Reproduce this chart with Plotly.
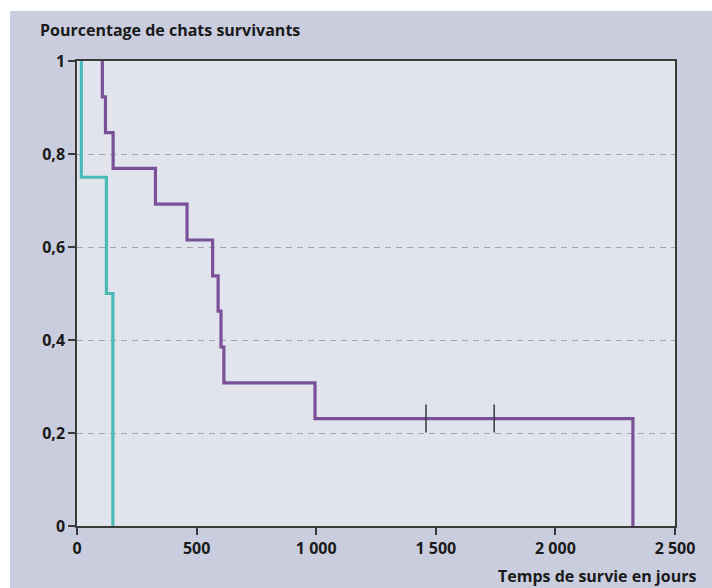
import plotly.graph_objects as go

# Kaplan-Meier data
teal_days = [18, 18, 123, 123, 150, 150]
teal_surv = [1.0, 0.75, 0.75, 0.5, 0.5, 0.0]

purple_days = [106, 106, 119, 119, 151, 151, 328, 328, 460, 460, 567, 567,
               590, 590, 602, 602, 614, 614, 995, 995, 2324, 2324]
purple_surv = [1.0, 0.923, 0.923, 0.846, 0.846, 0.769, 0.769, 0.692, 0.692, 0.615,
               0.615, 0.538, 0.538, 0.462, 0.462, 0.385, 0.385, 0.308, 0.308, 0.231,
               0.231, 0.0]

censor_days = [1459, 1744]
censor_surv = [0.231, 0.231]

x_ticks = [0, 500, 1000, 1500, 2000, 2500]
x_ticktext = ["0", "500", "1 000", "1 500", "2 000", "2 500"]
y_ticks = [0, 0.2, 0.4, 0.6, 0.8, 1]
y_ticktext = ["0", "0,2", "0,4", "0,6", "0,8", "1"]

y_title = "Pourcentage de chats survivants"
x_title = "Temps de survie en jours"

TEAL = "#4bbab6"
PURPLE = "#7a5198"
PANEL = "#c9cddd"
PLOTBG = "#e1e4ec"
AXIS = "#3a3a3a"
FONT = dict(family="'Open Sans', sans-serif", size=16, color="#1a1a1a", weight=700)

fig = go.Figure()
fig.add_trace(go.Scatter(x=teal_days, y=teal_surv, mode="lines",
                         line=dict(color=TEAL, width=3.2), showlegend=False))
fig.add_trace(go.Scatter(x=purple_days, y=purple_surv, mode="lines",
                         line=dict(color=PURPLE, width=3.2), showlegend=False))
fig.add_trace(go.Scatter(x=censor_days, y=censor_surv, mode="markers",
                         marker=dict(symbol="line-ns", size=20,
                                     line=dict(color="#3a3a3a", width=1.5)),
                         showlegend=False))

L, R, T, B = 77, 37, 61, 62
W, H = 712, 588
pw, ph = W - L - R, H - T - B

def px2x(px):
    return (px - L) / pw

def py2y(py):
    return (H - B - py) / ph

# white strips outside the grey panel (left and top)
fig.add_shape(type="rect", xref="paper", yref="paper",
              x0=px2x(-5), x1=px2x(10), y0=py2y(600), y1=py2y(-5),
              fillcolor="white", line=dict(width=0), layer="below")
fig.add_shape(type="rect", xref="paper", yref="paper",
              x0=px2x(-5), x1=px2x(720), y0=py2y(11), y1=py2y(-5),
              fillcolor="white", line=dict(width=0), layer="below")

fig.add_annotation(text=y_title, xref="paper", yref="paper",
                   x=px2x(38), y=py2y(30), xanchor="left", yanchor="middle",
                   showarrow=False, font=FONT)
fig.add_annotation(text=x_title, xref="paper", yref="paper",
                   x=px2x(698), y=py2y(576), xanchor="right", yanchor="middle",
                   showarrow=False, font=FONT)

fig.update_xaxes(range=[0, 2500], tickvals=x_ticks, ticktext=x_ticktext,
                 showgrid=False, zeroline=False, showline=True, linecolor=AXIS,
                 linewidth=1.5, mirror=True, ticks="outside", ticklen=7,
                 tickcolor=AXIS, tickwidth=1.5, tickfont=FONT)
fig.update_yaxes(range=[0, 1], tickvals=y_ticks, ticktext=y_ticktext,
                 showgrid=True, gridcolor="#a2a4ae", gridwidth=1.2, griddash="6px,5px",
                 zeroline=False, showline=True, linecolor=AXIS,
                 linewidth=1.5, mirror=True, ticks="outside", ticklen=7,
                 tickcolor=AXIS, tickwidth=1.5, tickfont=FONT)

fig.update_layout(width=W, height=H, margin=dict(l=L, r=R, t=T, b=B, pad=0),
                  paper_bgcolor=PANEL, plot_bgcolor=PLOTBG, showlegend=False)

fig.write_html("out.html", config={"displayModeBar": False},
               post_script="document.body.style.margin='0';document.body.style.overflow='hidden';")
